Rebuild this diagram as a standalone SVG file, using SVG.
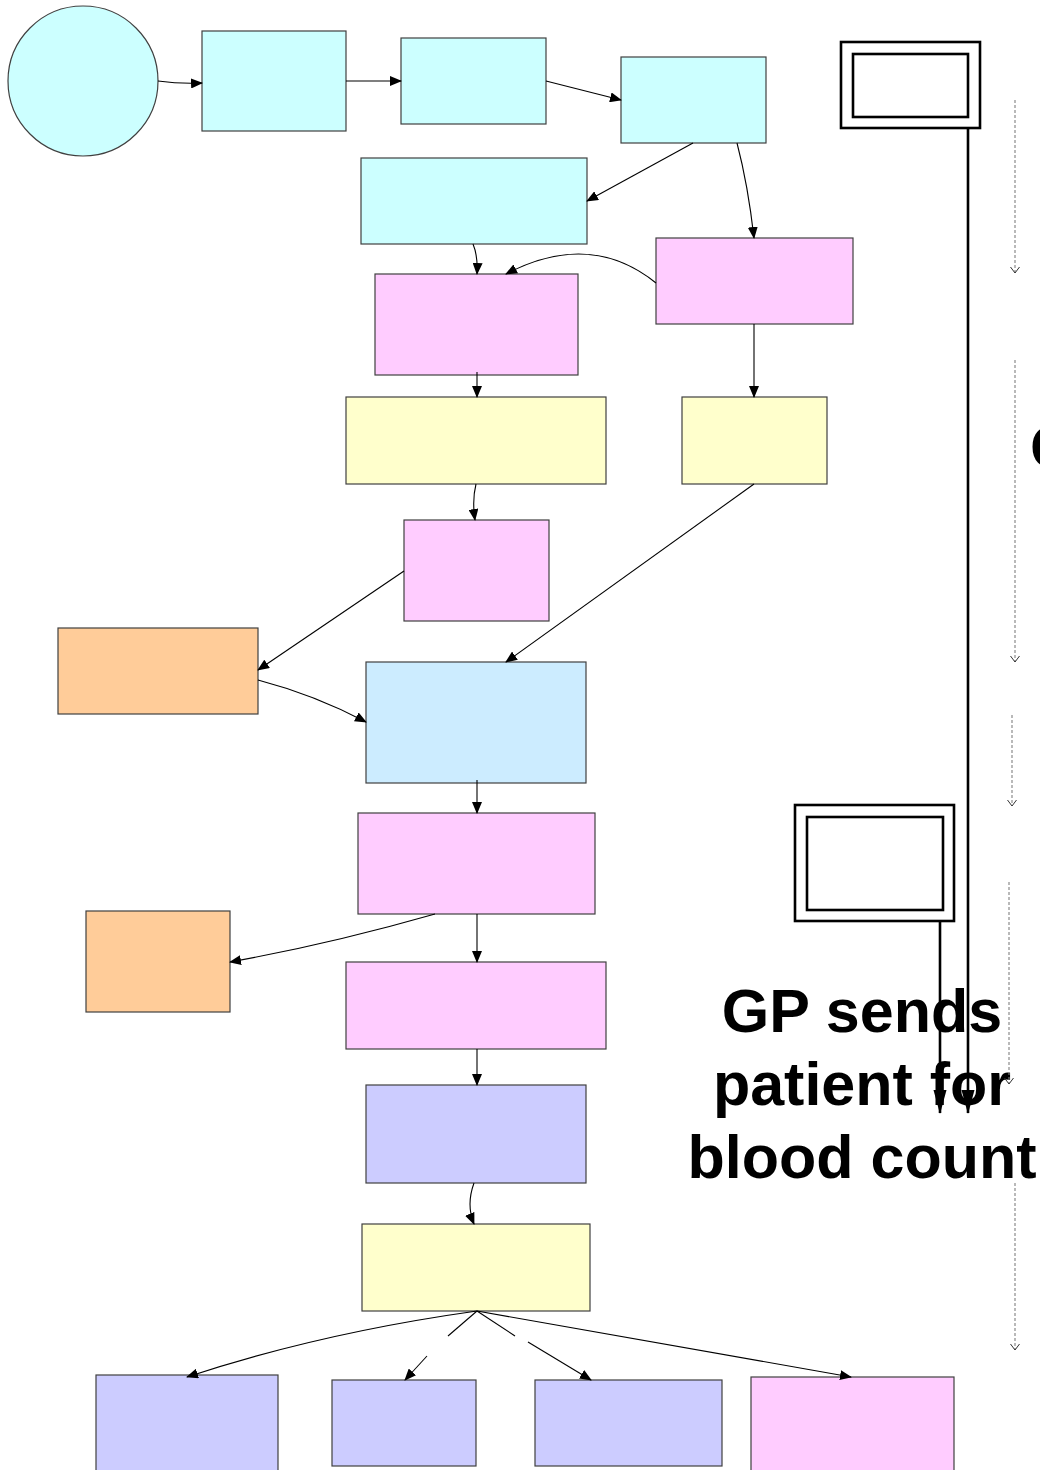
<svg xmlns="http://www.w3.org/2000/svg" width="1040" height="1470" viewBox="0 0 1040 1470">
<style>
.b{stroke:#404040;stroke-width:1.2}
.cy{fill:#CCFFFF}.pk{fill:#FFCCFF}.yl{fill:#FFFFCC}.or{fill:#FFCC99}.lb{fill:#CCECFF}.lv{fill:#CCCCFF}
.c{fill:none;stroke:#000;stroke-width:1.1;marker-end:url(#ah)}
.cn{fill:none;stroke:#000;stroke-width:1.1}
.d{fill:none;stroke:#808080;stroke-width:1.1;stroke-dasharray:3 2;marker-end:url(#oh)}
.tk{fill:none;stroke:#000;stroke-width:2.6;marker-end:url(#th)}
.big{font-family:"Liberation Sans",Arial,sans-serif;font-weight:bold;font-size:61px;fill:#000}
</style>
<defs>
<marker id="ah" markerUnits="userSpaceOnUse" markerWidth="12" markerHeight="10" refX="11" refY="5" orient="auto"><path d="M0,0 L12,5 L0,10 Z" fill="#000"/></marker>
<marker id="oh" markerUnits="userSpaceOnUse" markerWidth="10" markerHeight="10" refX="8" refY="5" orient="auto"><path d="M2,0.5 L8,5 L2,9.5" fill="none" stroke="#333" stroke-width="1"/></marker>
<marker id="th" markerUnits="userSpaceOnUse" markerWidth="24" markerHeight="14" refX="23" refY="7" orient="auto" overflow="visible"><path d="M0,0.5 L24,7 L0,13.5 Z" fill="#000"/></marker>
</defs>

<g id="label">
<text class="big" x="862" y="1032" text-anchor="middle">GP sends</text>
<text class="big" x="862" y="1105" text-anchor="middle">patient for</text>
<text class="big" x="862" y="1178" text-anchor="middle">blood count</text>
<text class="big" x="1030" y="468">G</text>
</g>

<g id="n0"><ellipse class="b cy" cx="83" cy="81" rx="75" ry="75"/></g>
<g id="n1"><rect class="b cy" x="202" y="31" width="144" height="100"/></g>
<g id="n2"><rect class="b cy" x="401" y="38" width="145" height="86"/></g>
<g id="n3"><rect class="b cy" x="621" y="57" width="145" height="86"/></g>
<g id="n4"><rect class="b cy" x="361" y="158" width="226" height="86"/></g>
<g id="n5"><rect class="b pk" x="375" y="274" width="203" height="101"/></g>
<g id="n6"><rect class="b pk" x="656" y="238" width="197" height="86"/></g>
<g id="n7"><rect class="b yl" x="346" y="397" width="260" height="87"/></g>
<g id="n8"><rect class="b yl" x="682" y="397" width="145" height="87"/></g>
<g id="n9"><rect class="b pk" x="404" y="520" width="145" height="101"/></g>
<g id="n10"><rect class="b or" x="58" y="628" width="200" height="86"/></g>
<g id="n11"><rect class="b lb" x="366" y="662" width="220" height="121"/></g>
<g id="n12"><rect class="b pk" x="358" y="813" width="237" height="101"/></g>
<g id="n13"><rect class="b or" x="86" y="911" width="144" height="101"/></g>
<g id="n14"><rect class="b pk" x="346" y="962" width="260" height="87"/></g>
<g id="n15"><rect class="b lv" x="366" y="1085" width="220" height="98"/></g>
<g id="n16"><rect class="b yl" x="362" y="1224" width="228" height="87"/></g>
<g id="n17"><rect class="b lv" x="96" y="1375" width="182" height="100"/></g>
<g id="n18"><rect class="b lv" x="332" y="1380" width="144" height="86"/></g>
<g id="n19"><rect class="b lv" x="535" y="1380" width="187" height="86"/></g>
<g id="n20"><rect class="b pk" x="751" y="1377" width="203" height="100"/></g>

<g id="actor1">
<rect x="841" y="42" width="139" height="86" fill="#fff" stroke="#000" stroke-width="2.6"/>
<rect x="853" y="54" width="115" height="63" fill="none" stroke="#000" stroke-width="2.6"/>
</g>
<g id="actor2">
<rect x="795" y="805" width="159" height="116" fill="#fff" stroke="#000" stroke-width="2.6"/>
<rect x="807" y="817" width="136" height="93" fill="none" stroke="#000" stroke-width="2.6"/>
</g>

<g id="connectors">
<path class="c" d="M158,81 Q180,84 202,83"/>
<path class="c" d="M346,81 L401,81"/>
<path class="c" d="M546,81 L621,100"/>
<path class="c" d="M693,143 L587,201"/>
<path class="c" d="M737,143 Q748,185 754,238"/>
<path class="c" d="M473,244 Q478,256 477,274"/>
<path class="c" d="M656,283 Q590,230 506,274"/>
<path class="c" d="M477,372 L477,397"/>
<path class="c" d="M754,324 L754,397"/>
<path class="c" d="M476,484 Q472,500 475,520"/>
<path class="c" d="M404,571 L258,670"/>
<path class="c" d="M754,484 L506,662"/>
<path class="c" d="M258,680 Q315,695 366,722"/>
<path class="c" d="M477,780 L477,813"/>
<path class="c" d="M435,914 Q330,944 230,962"/>
<path class="c" d="M477,914 L477,962"/>
<path class="c" d="M477,1049 L477,1085"/>
<path class="c" d="M474,1183 Q466,1205 474,1224"/>
<path class="c" d="M477,1311 Q320,1333 187,1377"/>
<path class="cn" d="M477,1311 L448,1336"/>
<path class="c" d="M427,1356 L405,1380"/>
<path class="cn" d="M477,1311 L515,1336"/>
<path class="c" d="M528,1342 L591,1380"/>
<path class="c" d="M477,1311 L851,1377"/>
<path class="tk" d="M968,128 L968,1113"/>
<path class="tk" d="M940,921 L940,1113"/>
<path class="d" d="M1015,100 L1015,273"/>
<path class="d" d="M1015,360 L1015,662"/>
<path class="d" d="M1012,715 L1012,806"/>
<path class="d" d="M1009,882 L1009,1084"/>
<path class="d" d="M1015,1183 L1015,1350"/>
</g>
</svg>
